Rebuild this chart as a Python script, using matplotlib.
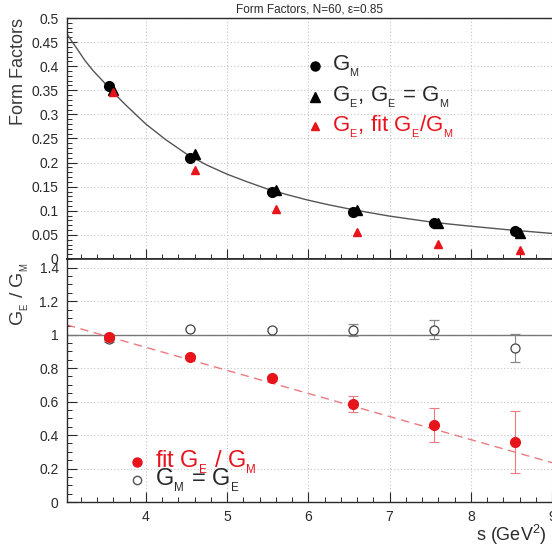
import matplotlib
matplotlib.use("Agg")
import matplotlib.pyplot as plt
from matplotlib.ticker import MultipleLocator, FormatStrFormatter

plt.rcParams['font.family'] = ['Liberation Sans', 'DejaVu Sans']
plt.rcParams['mathtext.default'] = 'regular'

# ================================
# DATA - top panel (form factors)
# ================================
s_gm = [3.55, 4.55, 5.55, 6.55, 7.55, 8.55]
gm_vals = [0.359, 0.210, 0.140, 0.098, 0.074, 0.058]

s_ge = [3.60, 4.60, 5.60, 6.60, 7.60, 8.60]
ge_equal_gm = [0.350, 0.217, 0.144, 0.101, 0.075, 0.053]
ge_fit_ratio = [0.347, 0.184, 0.104, 0.057, 0.032, 0.018]

# fitted curve
curve_s = [3.03, 3.15, 3.25, 3.35, 3.5, 3.65, 3.75, 3.9, 4.0, 4.25, 4.5, 4.75, 5.0,
           5.25, 5.5, 5.75, 6.0, 6.25, 6.5, 6.75, 7.0, 7.25, 7.5, 7.75, 8.0,
           8.25, 8.5, 8.75, 9.0]
curve_ff = [0.466, 0.437, 0.412, 0.391, 0.364, 0.337, 0.320, 0.296, 0.280, 0.247,
            0.218, 0.195, 0.176, 0.160, 0.145, 0.133, 0.122, 0.1125, 0.104, 0.0963,
            0.089, 0.083, 0.077, 0.0723, 0.068, 0.064, 0.060, 0.0566, 0.053]

# ================================
# DATA - bottom panel (GE/GM ratio)
# ================================
s_ratio = [3.55, 4.55, 5.55, 6.55, 7.55, 8.55]
ratio_fit = [0.983, 0.866, 0.740, 0.586, 0.461, 0.357]
ratio_fit_err = [0.02, 0.012, 0.015, 0.05, 0.10, 0.185]
ratio_equal = [0.975, 1.033, 1.030, 1.028, 1.030, 0.920]
ratio_equal_err = [0.02, 0.006, 0.008, 0.036, 0.056, 0.083]

fit_line_s = [3.03, 9.0]
fit_line_ratio = [1.058, 0.235]

RED = "#e8141c"
LIGHT_RED = "#ec7a80"
DARK = "#2a2a2a"
GRID = "#c4c4c4"

# small, low subscripts like the original
GM = r"G$_{{}_M}$"
GE = r"G$_{{}_E}$"

fig = plt.figure(figsize=(5.52, 5.50), dpi=100)
W, H = 552.0, 550.0
ax1 = fig.add_axes([67 / W, 1 - 259 / H, 485 / W, 241 / H])
ax2 = fig.add_axes([67 / W, 1 - 502 / H, 485 / W, 243 / H])

for ax in (ax1, ax2):
    ax.set_xlim(3.03, 9.0)
    ax.xaxis.set_major_locator(MultipleLocator(1))
    ax.xaxis.set_minor_locator(MultipleLocator(0.2))
    ax.tick_params(which='major', direction='in', length=7, width=0.8, labelsize=10,
                   pad=6, colors=DARK, top=False, right=False)
    ax.tick_params(which='minor', direction='in', length=3.5, width=0.7, colors=DARK,
                   top=False, right=False)
    ax.grid(True, which='major', linestyle=(0, (1, 2)), color=GRID, linewidth=0.8)
    ax.set_axisbelow(True)
    ax.spines['right'].set_visible(False)
    for sp in ('left', 'top', 'bottom'):
        ax.spines[sp].set_color(DARK)
        ax.spines[sp].set_linewidth(1.0)

# ---------------- top panel
ax1.set_ylim(0, 0.5)
ax1.yaxis.set_major_locator(MultipleLocator(0.05))
ax1.yaxis.set_minor_locator(MultipleLocator(0.01))
ax1.yaxis.set_major_formatter(FormatStrFormatter('%g'))
ax1.tick_params(axis='x', labelbottom=False)
ax1.spines['bottom'].set_linewidth(1.2)

ax1.plot(curve_s, curve_ff, color="#555555", linewidth=1.0, zorder=2)
ax1.plot(s_gm, gm_vals, 'o', color='black', markersize=7, zorder=4)
ax1.plot(s_ge, ge_equal_gm, '^', color='black', markersize=7, zorder=4)
ax1.plot(s_ge, ge_fit_ratio, '^', color=RED, markersize=6, zorder=5)

ax1.set_title("Form Factors, N=60, \u03b5=0.85", fontsize=8.5, pad=4, color=DARK)

# top legend (drawn by hand, as in the original)
leg_x_m, leg_x_t = 0.512, 0.547
ax1.plot([leg_x_m], [0.80], 'o', color='black', markersize=6.5, transform=ax1.transAxes, clip_on=False)
ax1.text(leg_x_t, 0.80, GM, transform=ax1.transAxes, fontsize=16, color=DARK, va='center')
ax1.plot([leg_x_m], [0.671], '^', color='black', markersize=6.5, transform=ax1.transAxes, clip_on=False)
ax1.text(leg_x_t, 0.671, GE + ", " + GE + " = " + GM, transform=ax1.transAxes, fontsize=16,
         color=DARK, va='center')
ax1.plot([leg_x_m], [0.55], '^', color=RED, markersize=6, transform=ax1.transAxes, clip_on=False)
ax1.text(leg_x_t, 0.55, GE + ", fit " + GE + "/" + GM, transform=ax1.transAxes, fontsize=16,
         color=RED, va='center')

# ---------------- bottom panel
ax2.set_ylim(0, 1.452)
ax2.yaxis.set_major_locator(MultipleLocator(0.2))
ax2.yaxis.set_minor_locator(MultipleLocator(0.05))
ax2.yaxis.set_major_formatter(FormatStrFormatter('%g'))
ax2.spines['top'].set_linewidth(1.2)

ax2.axhline(1.0, color="#777777", linewidth=1.0, zorder=2)
ax2.plot(fit_line_s, fit_line_ratio, color=LIGHT_RED, linewidth=1.0,
         linestyle=(0, (6, 4)), zorder=2)

ax2.errorbar(s_ratio, ratio_equal, yerr=ratio_equal_err, fmt='o', markersize=6.5,
             markerfacecolor='white', markeredgecolor='#444444', markeredgewidth=0.9,
             ecolor='#888888', elinewidth=0.8, capsize=3.5, capthick=0.8, zorder=3)
ax2.errorbar(s_ratio, ratio_fit, yerr=ratio_fit_err, fmt='o', markersize=7,
             color=RED, ecolor=LIGHT_RED, elinewidth=0.8, capsize=3.5, capthick=0.8, zorder=4)

# bottom legend
ax2.plot([0.144], [0.165], 'o', color=RED, markersize=6.5, transform=ax2.transAxes, clip_on=False)
ax2.text(0.181, 0.165, "fit " + GE + " / " + GM, transform=ax2.transAxes, fontsize=17,
         color=RED, va='center')
ax2.plot([0.144], [0.091], 'o', markerfacecolor='white', markeredgecolor='#555555',
         markersize=6, transform=ax2.transAxes, clip_on=False)
ax2.text(0.181, 0.091, GM + " = " + GE, transform=ax2.transAxes, fontsize=17,
         color=DARK, va='center')

# axis titles
fig.text(19 / W, 1 - 18 / H, "Form Factors", rotation=90, ha='center', va='top',
         fontsize=13, color="#3a3a3a")
fig.text(20 / W, 1 - 262 / H, GE + " / " + GM, rotation=90, ha='center', va='top',
         fontsize=14, color="#3a3a3a")
fig.text(547 / W, 1 - 535 / H, r"s (GeV$^2$)", ha='right', va='center',
         fontsize=13, color=DARK)

fig.savefig("out.png", dpi=100, facecolor="white")
